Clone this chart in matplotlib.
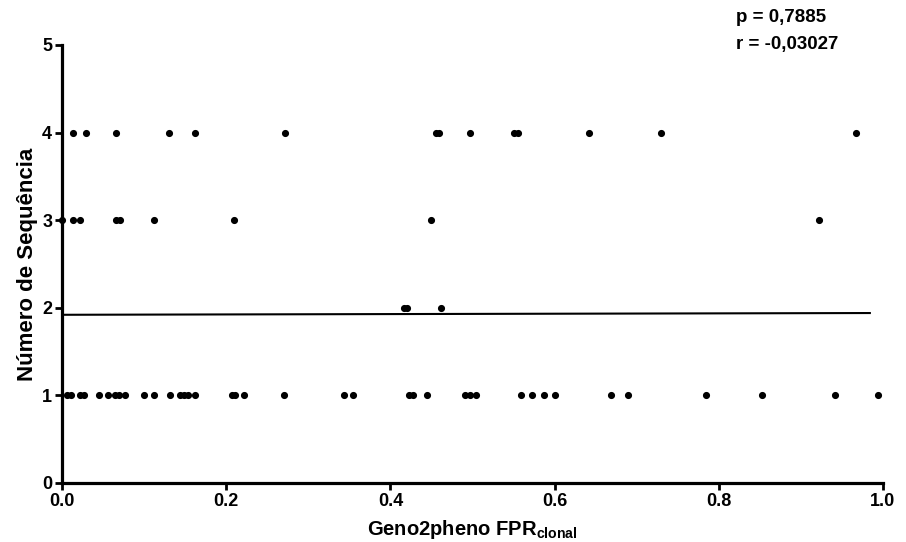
import numpy as np
import matplotlib.pyplot as plt

plt.rcParams['font.family'] = ['Liberation Sans', 'DejaVu Sans']
plt.rcParams['font.weight'] = 'bold'
plt.rcParams['mathtext.fontset'] = 'custom'
plt.rcParams['mathtext.bf'] = 'Liberation Sans:bold'
plt.rcParams['mathtext.rm'] = 'Liberation Sans:bold'
plt.rcParams['mathtext.default'] = 'bf'

# FPR values grouped by number of sequences
fpr_seq1 = [0.006, 0.011, 0.022, 0.027, 0.045, 0.056, 0.065, 0.069, 0.077,
            0.100, 0.112, 0.132, 0.144, 0.149, 0.154, 0.162, 0.207, 0.211,
            0.222, 0.271, 0.343, 0.355, 0.423, 0.427, 0.445, 0.491, 0.497,
            0.504, 0.559, 0.572, 0.587, 0.601, 0.669, 0.689, 0.784, 0.853,
            0.941, 0.994]
fpr_seq2 = [0.416, 0.420, 0.462]
fpr_seq3 = [0.0, 0.014, 0.022, 0.066, 0.071, 0.112, 0.209, 0.450, 0.922]
fpr_seq4 = [0.014, 0.029, 0.066, 0.130, 0.162, 0.272, 0.455, 0.459, 0.497,
            0.551, 0.556, 0.642, 0.730, 0.967]

# regression line endpoints
fit_x = [0.0, 0.984]
fit_y = [1.92, 1.94]

stats_text = ['p = 0,7885', 'r = -0,03027']

xs = fpr_seq1 + fpr_seq2 + fpr_seq3 + fpr_seq4
ys = ([1] * len(fpr_seq1) + [2] * len(fpr_seq2) +
      [3] * len(fpr_seq3) + [4] * len(fpr_seq4))

fig = plt.figure(figsize=(9.06, 5.42), dpi=100)
ax = fig.add_axes([0.0684, 0.1089, 0.9062, 0.8081])

ax.scatter(xs, ys, s=17, color='black', zorder=3, clip_on=False)
ax.plot(fit_x, fit_y, color='black', lw=1.5)

ax.set_xlim(0, 1.0)
ax.set_ylim(0, 5)
ax.set_xticks(np.arange(0, 1.01, 0.2))
ax.set_xticklabels(['0.0', '0.2', '0.4', '0.6', '0.8', '1.0'])
ax.set_yticks(range(0, 6))

for side in ['top', 'right']:
    ax.spines[side].set_visible(False)
for side in ['left', 'bottom']:
    ax.spines[side].set_linewidth(2.3)

ax.tick_params(axis='both', direction='out', length=5, width=2,
               labelsize=13, pad=2)
for lab in ax.get_xticklabels() + ax.get_yticklabels():
    lab.set_fontweight('bold')

ax.set_xlabel('Geno2pheno FPR$_{clonal}$', fontsize=14.5, fontweight='bold',
              labelpad=6)
ax.set_ylabel('Número de Sequência', fontsize=16, fontweight='bold',
              labelpad=3)

fig.text(0.812, 0.968, stats_text[0], fontsize=13.5, fontweight='bold',
         va='center', ha='left')
fig.text(0.812, 0.917, stats_text[1], fontsize=13.5, fontweight='bold',
         va='center', ha='left')

fig.savefig('out.png', dpi=100)
